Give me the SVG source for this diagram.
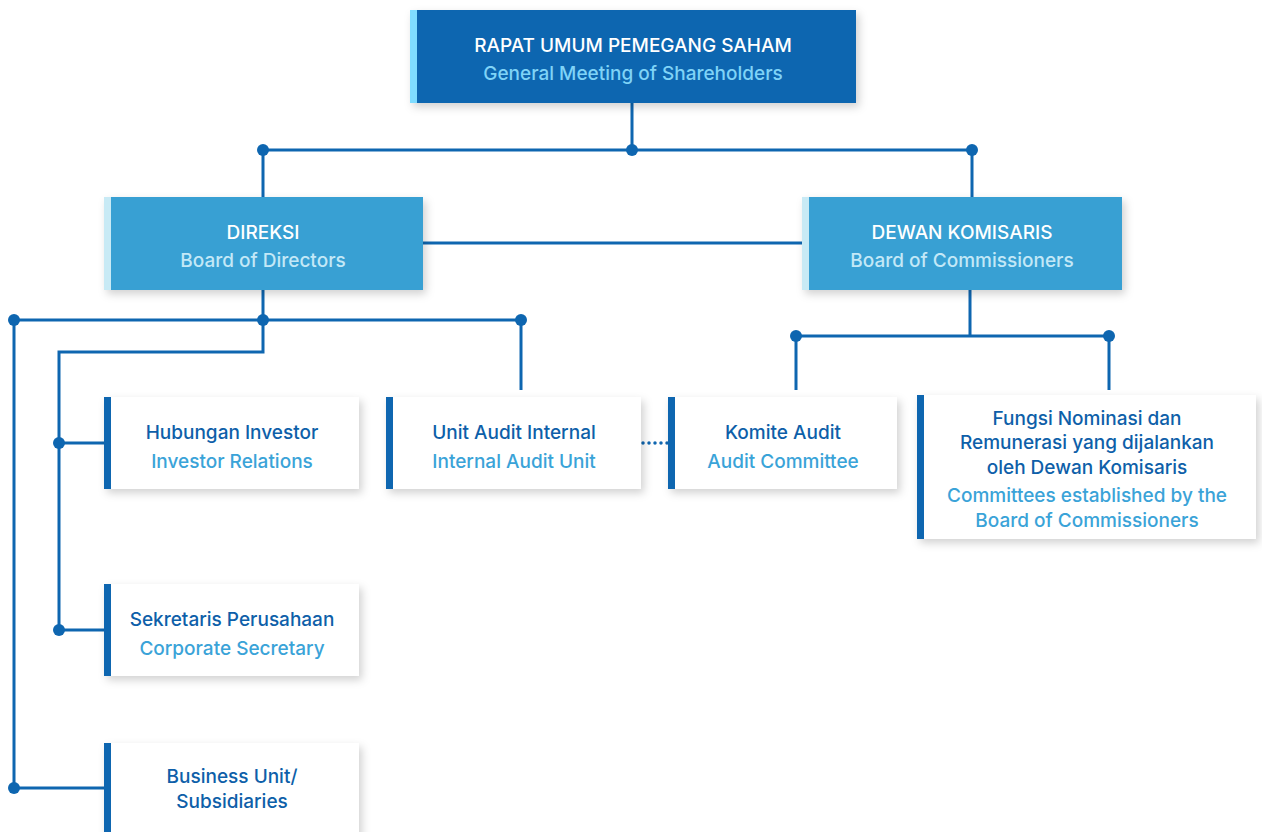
<svg xmlns="http://www.w3.org/2000/svg" width="1262" height="832" viewBox="0 0 1262 832">
<defs>
<filter id="sh" x="-10%" y="-20%" width="125%" height="150%">
<feDropShadow dx="3" dy="4" stdDeviation="4" flood-color="#000" flood-opacity="0.18"/>
</filter>
</defs>
<style>
text{font-family:Inter,"Noto Sans",sans-serif;font-size:19px;text-anchor:middle;font-weight:500}
.w{fill:#ffffff}
.sb{fill:#7fd3f7}
.sl{fill:#c3e8f7}
.d{fill:#0e5fa9}
.l{fill:#3aa3d8}
.ln{stroke:#0e66b0;stroke-width:3;fill:none}
.dot{fill:#0e66b0}
.card{fill:#ffffff}
.bar{fill:#0e66b0}
</style>
<g id="connectors">
<path class="ln" d="M632 103V150M263 150H972M263 150V197M972 150V197"/>
<path class="ln" d="M423 243H802"/>
<path class="ln" d="M263 290V320M14 320H521M521 320V390M263 320V352H59V630M59 443H104M59 630H104M14 320V788H104"/>
<path class="ln" d="M970 290V336M796 336H1109M796 336V390M1109 336V390"/>
<path d="M643 443H668" stroke="#0e66b0" stroke-width="3.5" stroke-dasharray="0 6" stroke-linecap="round" fill="none"/>
<circle class="dot" cx="263" cy="150" r="6"/>
<circle class="dot" cx="632" cy="150" r="6"/>
<circle class="dot" cx="972" cy="150" r="6"/>
<circle class="dot" cx="14" cy="320" r="6"/>
<circle class="dot" cx="263" cy="320" r="6"/>
<circle class="dot" cx="521" cy="320" r="6"/>
<circle class="dot" cx="59" cy="443" r="6"/>
<circle class="dot" cx="59" cy="630" r="6"/>
<circle class="dot" cx="14" cy="788" r="6"/>
<circle class="dot" cx="796" cy="336" r="6"/>
<circle class="dot" cx="1109" cy="336" r="6"/>
</g>
<g id="rups">
<rect x="410" y="10" width="446" height="93" fill="#0d66b0" filter="url(#sh)"/>
<rect x="410" y="10" width="7" height="93" fill="#7fdcff"/>
<text x="633" y="52" class="w">RAPAT UMUM PEMEGANG SAHAM</text>
<text x="633" y="80" class="sb">General Meeting of Shareholders</text>
</g>
<g id="direksi">
<rect x="104" y="197" width="319" height="93" fill="#37a0d3" filter="url(#sh)"/>
<rect x="104" y="197" width="7" height="93" fill="#c8eaf5"/>
<text x="263" y="239" class="w">DIREKSI</text>
<text x="263" y="267" class="sl">Board of Directors</text>
</g>
<g id="dekom">
<rect x="802" y="197" width="320" height="93" fill="#37a0d3" filter="url(#sh)"/>
<rect x="802" y="197" width="7" height="93" fill="#c8eaf5"/>
<text x="962" y="239" class="w">DEWAN KOMISARIS</text>
<text x="962" y="267" class="sl">Board of Commissioners</text>
</g>
<g id="ir">
<rect x="104" y="397" width="255" height="92" class="card" filter="url(#sh)"/>
<rect x="104" y="397" width="7" height="92" class="bar"/>
<text x="232" y="439" class="d">Hubungan Investor</text>
<text x="232" y="468" class="l">Investor Relations</text>
</g>
<g id="uai">
<rect x="386" y="397" width="255" height="92" class="card" filter="url(#sh)"/>
<rect x="386" y="397" width="7" height="92" class="bar"/>
<text x="514" y="439" class="d">Unit Audit Internal</text>
<text x="514" y="468" class="l">Internal Audit Unit</text>
</g>
<g id="ka">
<rect x="668" y="397" width="229" height="92" class="card" filter="url(#sh)"/>
<rect x="668" y="397" width="7" height="92" class="bar"/>
<text x="783" y="439" class="d">Komite Audit</text>
<text x="783" y="468" class="l">Audit Committee</text>
</g>
<g id="fnr">
<rect x="917" y="395" width="339" height="144" class="card" filter="url(#sh)"/>
<rect x="917" y="395" width="7" height="144" class="bar"/>
<text x="1087" y="425" class="d">Fungsi Nominasi dan</text>
<text x="1087" y="449" class="d">Remunerasi yang dijalankan</text>
<text x="1087" y="474" class="d">oleh Dewan Komisaris</text>
<text x="1087" y="502" class="l">Committees established by the</text>
<text x="1087" y="527" class="l">Board of Commissioners</text>
</g>
<g id="cs">
<rect x="104" y="584" width="255" height="92" class="card" filter="url(#sh)"/>
<rect x="104" y="584" width="7" height="92" class="bar"/>
<text x="232" y="626" class="d">Sekretaris Perusahaan</text>
<text x="232" y="655" class="l">Corporate Secretary</text>
</g>
<g id="bu">
<rect x="104" y="743" width="255" height="100" class="card" filter="url(#sh)"/>
<rect x="104" y="743" width="7" height="100" class="bar"/>
<text x="232" y="783" class="d">Business Unit/</text>
<text x="232" y="808" class="d">Subsidiaries</text>
</g>
</svg>
